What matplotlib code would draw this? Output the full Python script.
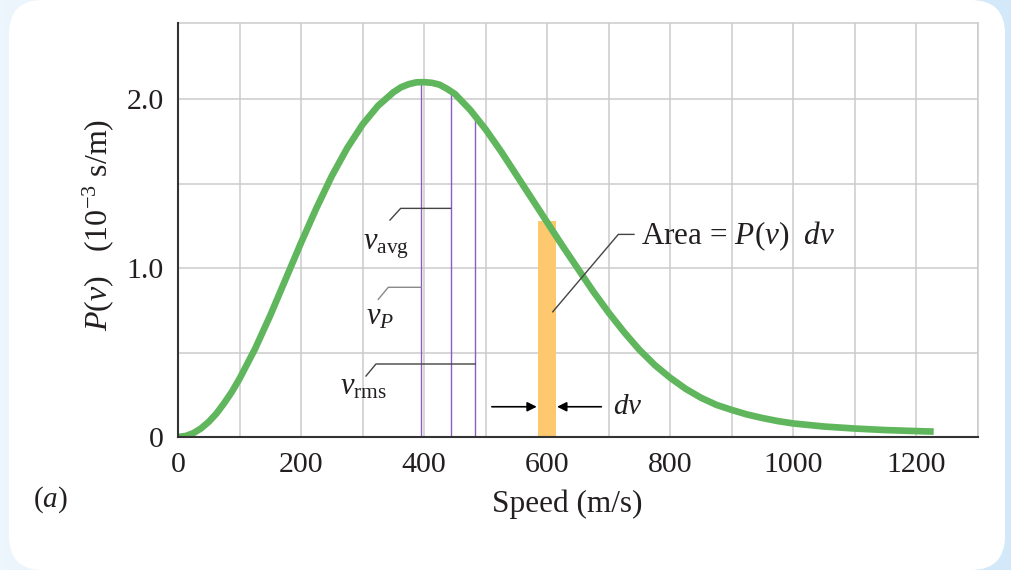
import matplotlib
matplotlib.use("Agg")
import matplotlib.pyplot as plt
import numpy as np
from matplotlib.colors import LinearSegmentedColormap
from matplotlib.patches import FancyBboxPatch

plt.rcParams['font.family'] = ['Liberation Serif', 'DejaVu Serif']
plt.rcParams['mathtext.fontset'] = 'custom'
plt.rcParams['mathtext.rm'] = 'Liberation Serif'
plt.rcParams['mathtext.it'] = 'Liberation Serif:italic'
plt.rcParams['mathtext.bf'] = 'Liberation Serif:bold'

# speed distribution (P in 10^-3 s/m)
speed = [0, 12.5, 25, 37.5, 50, 62.5, 75, 87.5, 100, 125, 150, 175, 200, 225,
         250, 275, 300, 325, 350, 362.5, 375, 387.5, 400, 412.5, 425, 437.5,
         450, 475, 500, 525, 550, 575, 600, 625, 650, 675, 700, 725, 750, 775,
         800, 825, 850, 875, 900, 925, 950, 975, 1000, 1050, 1100, 1150, 1200,
         1228]
prob = [0.0, 0.006, 0.023, 0.051, 0.09, 0.139, 0.20, 0.267, 0.345, 0.52, 0.72,
        0.935, 1.15, 1.355, 1.545, 1.71, 1.85, 1.96, 2.04, 2.07, 2.088, 2.099,
        2.10, 2.096, 2.085, 2.06, 2.03, 1.935, 1.82, 1.69, 1.55, 1.41, 1.27,
        1.13, 0.995, 0.86, 0.735, 0.62, 0.515, 0.425, 0.35, 0.285, 0.232,
        0.19, 0.16, 0.133, 0.112, 0.094, 0.08, 0.062, 0.05, 0.041, 0.035,
        0.032]

# characteristic speeds: v_P, v_avg, v_rms
marker_speeds = [395, 444, 483]
marker_probs = [2.10, 2.04, 1.89]

# the dv strip
strip_lo, strip_hi = 585, 615
strip_top = 1.28

x_ticks = list(range(0, 1301, 100))
x_ticklabels = ['0', '', '200', '', '400', '', '600', '', '800', '', '1000', '', '1200', '']
y_ticks = [0, 0.5, 1.0, 1.5, 2.0]
y_ticklabels = ['0', '', '1.0', '', '2.0']

TXT = '#231f20'
GRID = '#cbcbcb'

fig = plt.figure(figsize=(10.12, 5.70), dpi=100)

# page background: blue gradient with a white rounded card
bg = fig.add_axes([0, 0, 1, 1], zorder=-10)
cmap = LinearSegmentedColormap.from_list('bg', ['#eef6fd', '#d3e8f8'])
bg.imshow(np.linspace(0, 1, 256)[None, :], cmap=cmap, aspect='auto',
          extent=[0, 1012, 570, 0])
bg.add_patch(FancyBboxPatch((9, 0), 996, 570,
                            boxstyle='round,pad=0,rounding_size=34',
                            fc='white', ec='none'))
bg.set_xlim(0, 1012)
bg.set_ylim(570, 0)
bg.axis('off')

ax = fig.add_axes([178 / 1012, 133 / 570, 800 / 1012, 414 / 570])
ax.set_facecolor('none')
ax.set_xlim(0, 1300)
ax.set_ylim(0, 2.45)

ax.set_xticks(x_ticks)
ax.set_xticklabels(x_ticklabels)
ax.set_yticks(y_ticks)
ax.set_yticklabels(y_ticklabels)
ax.tick_params(axis='both', length=0, labelsize=21.5, colors=TXT)
ax.tick_params(axis='x', pad=11)
ax.tick_params(axis='y', pad=10)
ax.grid(True, color=GRID, linewidth=1.1, zorder=0)
ax.set_axisbelow(True)

for side in ['top', 'right']:
    ax.spines[side].set_color(GRID)
    ax.spines[side].set_linewidth(1.1)
for side in ['left', 'bottom']:
    ax.spines[side].set_color('#333333')
    ax.spines[side].set_linewidth(1.5)
    ax.spines[side].set_zorder(5)

# dv strip
ax.bar((strip_lo + strip_hi) / 2, strip_top, width=strip_hi - strip_lo,
       color='#fdc86e', edgecolor='none', zorder=2)

# characteristic speed markers
for v, p in zip(marker_speeds, marker_probs):
    ax.plot([v, v], [0, p], color='#8a5cc6', linewidth=1.0, zorder=3)

# distribution curve
ax.plot(speed, prob, color='#60b65d', linewidth=4.8, solid_capstyle='butt',
        solid_joinstyle='round', zorder=4)

# leaders and labels for the three speeds
lead = '#444444'
ax.plot([344.5, 361.8, 443], [1.284, 1.353, 1.353], color=lead, lw=1.0, zorder=3)
ax.plot([325.5, 341.7, 395], [0.815, 0.886, 0.886], color='#888888', lw=1.0, zorder=3)
ax.plot([305.5, 321.7, 483], [0.361, 0.432, 0.432], color=lead, lw=1.0, zorder=3)
ax.text(338, 1.13, r'$v_{\mathrm{avg}}$', fontsize=22, color=TXT,
        ha='center', va='center')
ax.text(328, 0.71, r'$v_P$', fontsize=22, color=TXT, ha='center', va='center')
ax.text(301, 0.296, r'$v_{\mathrm{rms}}$', fontsize=22, color=TXT,
        ha='center', va='center')

# area annotation
ax.plot([609, 715.5, 741], [0.741, 1.199, 1.199], color=lead, lw=1.0, zorder=5)
ax.text(752, 1.19, r'Area = $P(v)\ \ dv$', fontsize=22.5, color=TXT,
        ha='left', va='center')

# dv arrows
arrow = dict(arrowstyle='-|>', color='black', lw=1.2, mutation_scale=14,
             shrinkA=0, shrinkB=0)
ax.annotate('', xy=(583, 0.179), xytext=(510, 0.179), arrowprops=arrow)
ax.annotate('', xy=(616, 0.179), xytext=(688, 0.179), arrowprops=arrow)
ax.text(707, 0.18, r'$dv$', fontsize=21, color=TXT, ha='left', va='center')

ax.set_xlabel('Speed (m/s)', fontsize=22.5, color=TXT)
ax.xaxis.set_label_coords(0.486, -0.128)
ax.set_ylabel(r'$P(v)$   (10$^{-3}$ s/m)', fontsize=23, color=TXT)
ax.yaxis.set_label_coords(-0.0775, 0.512)

fig.text(50 / 1012, 1 - 500 / 570, r'($a$)', fontsize=21, color=TXT,
         ha='center', va='center')

fig.savefig('out.png', dpi=100)
